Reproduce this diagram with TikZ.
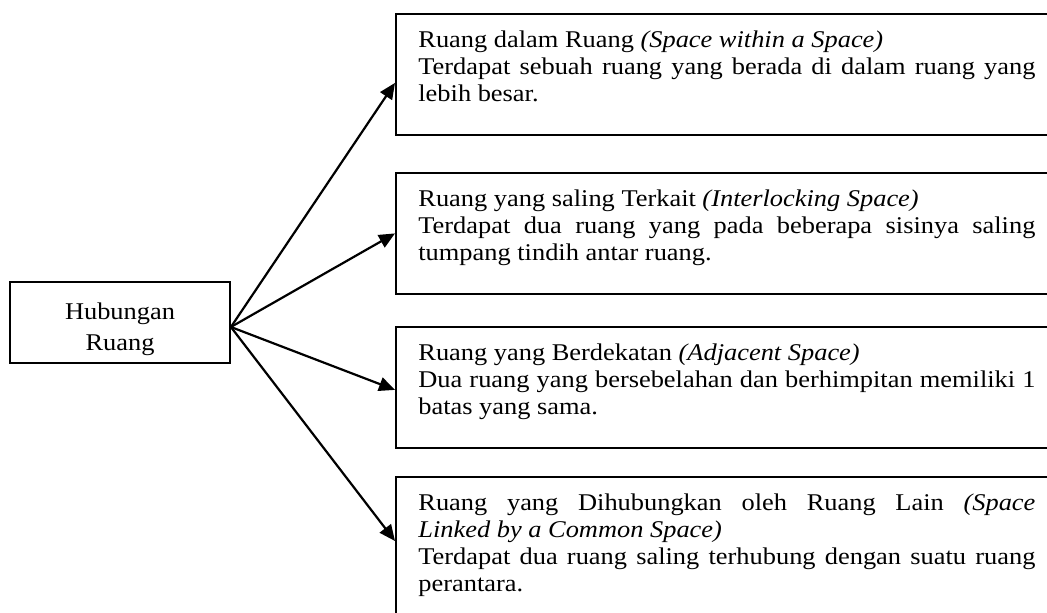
\documentclass[tikz,border=0pt]{standalone}
\usepackage{fontspec}
\setmainfont{Liberation Serif}[FakeStretch=1.1]
\usetikzlibrary{arrows.meta}
\tikzset{
  box/.style={draw, line width=0.9pt, anchor=north west, inner sep=0pt, minimum width=332.5pt},
  txt/.style={anchor=north west, inner sep=0pt, text width=308.5pt, align=justify, font=\fontsize{12}{13.5}\selectfont},
  conn/.style={line width=1.1pt, -{Triangle[length=8pt,width=7pt]}}
}
\begin{document}
\begin{tikzpicture}[x=0.5pt,y=-0.5pt]
\useasboundingbox (0,0) rectangle (1047,613);
\clip (0,0) rectangle (1047,613);
% left node
\node[draw, line width=0.9pt, minimum width=110pt, minimum height=40.5pt, inner sep=0pt,
      align=center, font=\fontsize{12}{15.5}\selectfont] (hub) at (120,322.5) {\rule{0pt}{15.2pt}Hubungan\\Ruang};
% right boxes
\node[box, minimum height=60.5pt] (b1) at (395,13) {};
\node[box, minimum height=60.5pt] (b2) at (395,172) {};
\node[box, minimum height=60.5pt] (b3) at (395,326) {};
\node[box, minimum height=74pt] (b4) at (395,476) {};
% texts
\node[txt] (t1) at ([xshift=11.5pt,yshift=-7.55pt]b1.north west)
  {\strut Ruang dalam Ruang \textit{(Space within a Space)}\\
   Terdapat sebuah ruang yang berada di dalam ruang yang\linebreak lebih besar.};
\node[txt] (t2) at ([xshift=11.5pt,yshift=-7.55pt]b2.north west)
  {\strut Ruang yang saling Terkait \textit{(Interlocking Space)}\\
   Terdapat dua ruang yang pada beberapa sisinya saling\linebreak tumpang tindih antar ruang.};
\node[txt] (t3) at ([xshift=11.5pt,yshift=-7.55pt]b3.north west)
  {\strut Ruang yang Berdekatan \textit{(Adjacent Space)}\\
   Dua ruang yang bersebelahan dan berhimpitan memiliki 1\linebreak batas yang sama.};
\node[txt] (t4) at ([xshift=11.5pt,yshift=-7.55pt]b4.north west)
  {\strut Ruang yang Dihubungkan oleh Ruang Lain \textit{(Space\linebreak Linked by a Common Space)}\\
   Terdapat dua ruang saling terhubung dengan suatu ruang\linebreak perantara.};
% connectors
\coordinate (o) at ([yshift=-2.25pt]hub.east);
\draw[conn] (o) -- ([yshift=-4.25pt]b1.west);
\draw[conn] (o) -- (b2.west);
\draw[conn] (o) -- ([yshift=-1.25pt]b3.west);
\draw[conn] (o) -- ([yshift=-32.5pt]b4.north west);
\end{tikzpicture}
\end{document}
